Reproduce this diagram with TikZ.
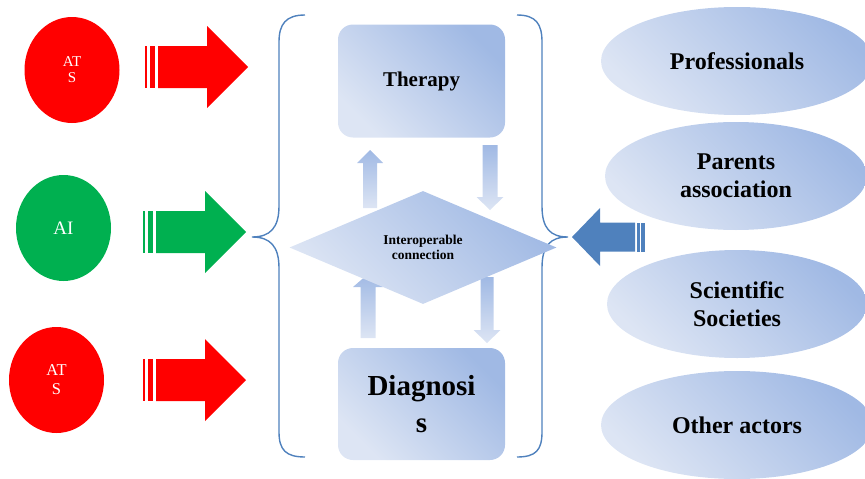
\documentclass[tikz,border=0pt]{standalone}
\usepackage{fontspec}
\setmainfont{Liberation Serif}
\usetikzlibrary{shapes.geometric}

\definecolor{atsred}{HTML}{FF0000}
\definecolor{aigreen}{HTML}{00B050}
\definecolor{bracecol}{HTML}{4F81BD}
\definecolor{paleblue}{HTML}{DDE5F4}
\definecolor{midblue}{HTML}{A0B9E4}

\tikzset{
  soft/.style={top color=midblue, bottom color=paleblue, shading angle=-45},
  tool/.style={ellipse, inner sep=0pt, minimum width=95pt, minimum height=106pt, text=white, align=center},
  stage/.style={rectangle, rounded corners=15pt, soft, inner sep=0pt, minimum width=167pt, align=center, font=\bfseries},
  actor/.style={ellipse, soft, inner sep=0pt, minimum height=108pt, align=center,
    font=\bfseries\fontsize{24}{28}\selectfont},
  brace/.style={bracecol, line width=1.4pt},
  flow/.style={top color=midblue, bottom color=paleblue}
}

\begin{document}
\begin{tikzpicture}[x=1pt, y=-1pt]
\useasboundingbox (0,0) rectangle (865,479);

% tools on the left
\node[tool, fill=atsred, font=\fontsize{15}{16}\selectfont] (ats1) at (72,70) {AT\\S};
\node[tool, fill=aigreen, font=\fontsize{19}{20}\selectfont] (ai) at (63.5,228) {AI};
\node[tool, fill=atsred, font=\fontsize{16.5}{19}\selectfont] (ats2) at (56.5,380) {AT\\S};

% striped block arrows
\foreach \ty/\tx/\col in {67/248/atsred, 232/246/aigreen, 380/246/atsred} {
  \fill[\col] (\tx,\ty) -- ++(-41,-41) -- ++(0,20) -- ++(-49,0) -- ++(0,42)
    -- ++(49,0) -- ++(0,20) -- cycle;
  \fill[\col] (\tx-103,\ty-21) rectangle ++(2,42);
  \fill[\col] (\tx-98,\ty-21) rectangle ++(5,42);
}

% braces
\draw[brace] (305,15) .. controls (286,15) and (279,24) .. (279,42) -- (279,206)
  .. controls (279,228) and (270,237) .. (252,237)
  .. controls (270,237) and (279,246) .. (279,268) -- (279,432)
  .. controls (279,450) and (286,457) .. (305,457);
\draw[brace] (517,15) .. controls (536,15) and (542,24) .. (542,42) -- (542,206)
  .. controls (542,228) and (550,237) .. (568,237)
  .. controls (550,237) and (542,246) .. (542,268) -- (542,432)
  .. controls (542,450) and (536,457) .. (517,457);

% centre
\node[stage, minimum height=113pt, font=\bfseries\fontsize{21}{22}\selectfont] (therapy) at (421.5,81) {Therapy};
\node[stage, minimum height=112pt, font=\bfseries\fontsize{29}{37}\selectfont] (diagnosis) at (421.5,404) {Diagnosi\\s};

% small arrows
\foreach \cx/\tip/\base/\bot/\hh/\hs in {370/150/163/208/13/7, 368/274/287/338/15/7.5} {
  \shade[flow] (\cx,\tip) -- (\cx+\hh,\base) -- (\cx+\hs,\base) -- (\cx+\hs,\bot)
    -- (\cx-\hs,\bot) -- (\cx-\hs,\base) -- (\cx-\hh,\base) -- cycle;
}
\foreach \cx/\top/\base/\tip/\hh/\hs in {490/145/197/210/13.5/7.5, 487/277/330/343/13.5/6.5} {
  \shade[flow] (\cx-\hs,\top) -- (\cx+\hs,\top) -- (\cx+\hs,\base) -- (\cx+\hh,\base)
    -- (\cx,\tip) -- (\cx-\hh,\base) -- (\cx-\hs,\base) -- cycle;
}

\node[diamond, soft, inner sep=0pt, minimum width=267pt, minimum height=113pt, align=center,
  font=\bfseries\fontsize{13.5}{15.5}\selectfont] (link) at (423,247.5) {Interoperable\\connection};

% actors on the right
\node[actor, minimum width=272pt] (prof) at (737,61) {Professionals};
\node[actor, minimum width=262pt] (parents) at (736,176) {Parents\\association};
\node[actor, minimum width=260pt] (sci) at (737,304) {Scientific\\Societies};
\node[actor, minimum width=272pt] (others) at (737,425) {Other actors};

% arrow from the actors
\fill[bracecol] (572,237) -- (600,208) -- (600,222.5) -- (635,222.5) -- (635,251.5)
  -- (600,251.5) -- (600,266) -- cycle;
\fill[bracecol] (636.5,222.5) rectangle (639.5,251.5);
\fill[bracecol] (641,222.5) rectangle (645,251.5);
\end{tikzpicture}
\end{document}
